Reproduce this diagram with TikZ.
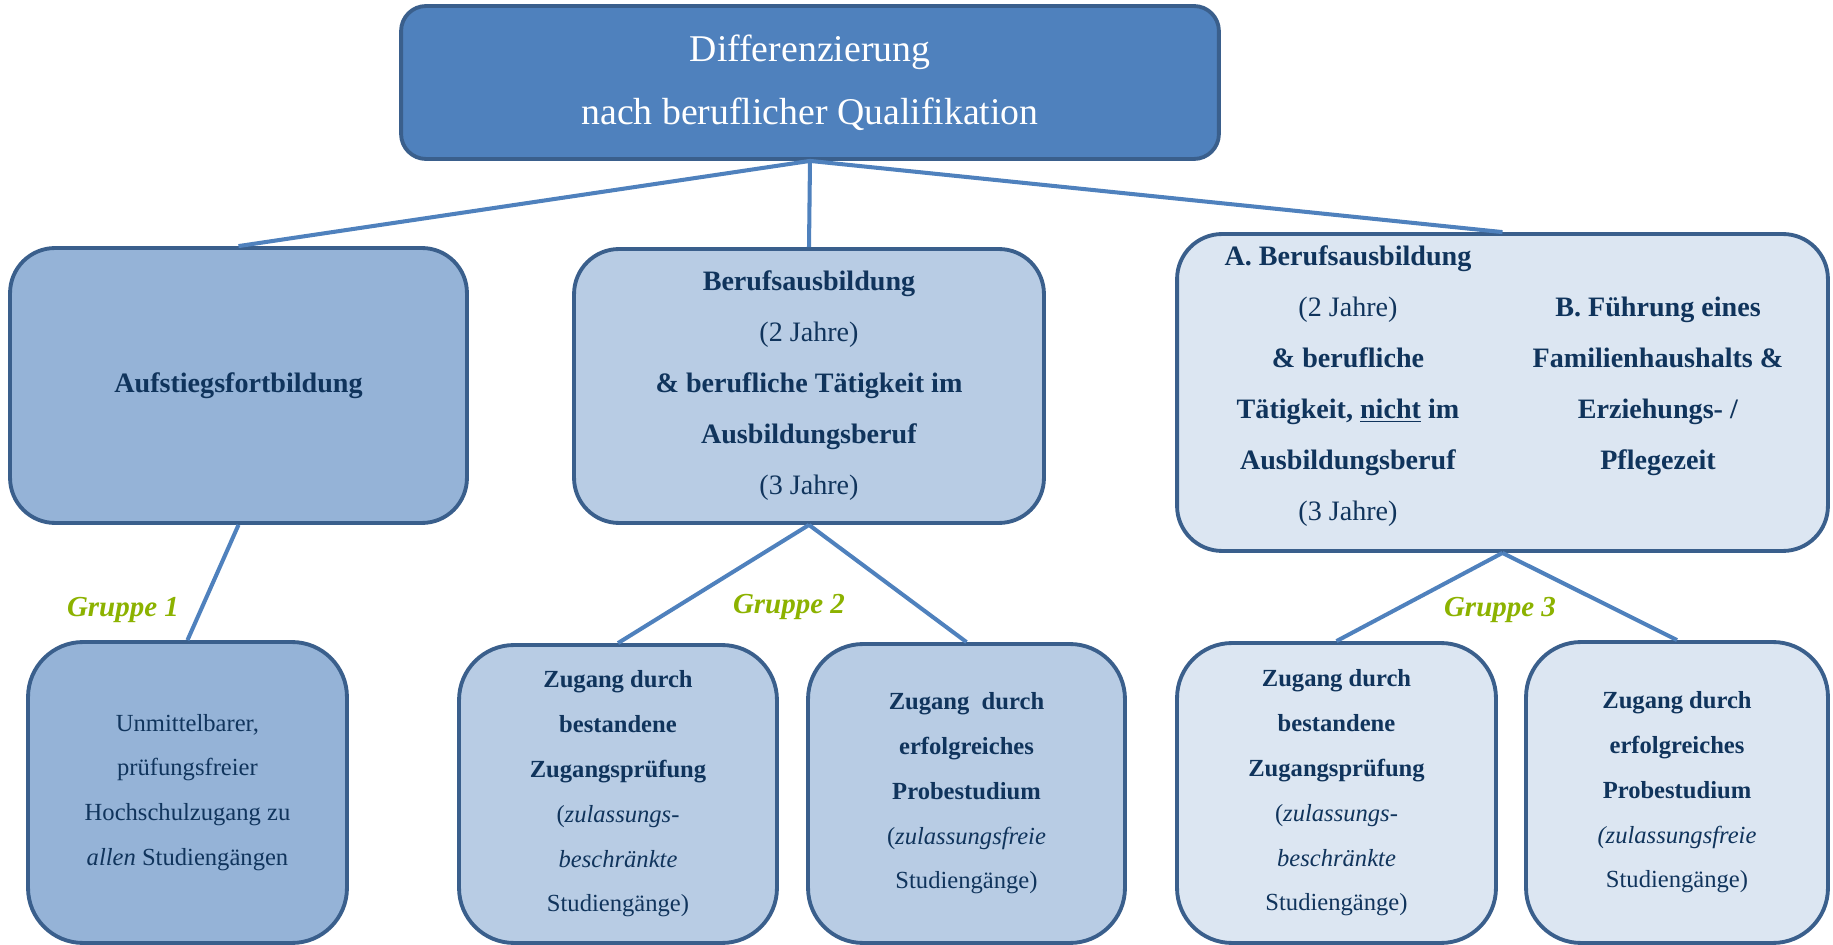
\documentclass[tikz,border=0pt]{standalone}
\usepackage{fontspec}
\setmainfont{Liberation Serif}
\usepackage{xcolor}
\definecolor{HeadBlue}{RGB}{79, 129, 189}
\definecolor{LineBlue}{RGB}{58, 95, 140}
\definecolor{LinkBlue}{RGB}{79, 129, 189}
\definecolor{MidBlue}{RGB}{149, 179, 215}
\definecolor{LightBlue}{RGB}{184, 204, 228}
\definecolor{PaleBlue}{RGB}{220, 230, 242}
\definecolor{TextBlue}{RGB}{16, 52, 92}
\definecolor{GroupGreen}{RGB}{140, 178, 0}

\tikzset{
  headbox/.style={draw=LineBlue, fill=HeadBlue, line width=2.2pt, rounded corners=0.5cm,
    text=white, align=center, inner sep=0pt, font=\fontsize{21.5}{36}\selectfont},
  midbox/.style={draw=LineBlue, line width=2.2pt, rounded corners=0.9cm,
    text=TextBlue, align=center, inner sep=0pt, font=\fontsize{16}{29}\selectfont},
  lowbox/.style={draw=LineBlue, line width=2.2pt, rounded corners=1.1cm,
    text=TextBlue, align=center, inner sep=0pt, font=\fontsize{14}{25.5}\selectfont},
  coltext/.style={text=TextBlue, align=center, inner sep=0pt, font=\fontsize{16}{29}\selectfont},
  link/.style={draw=LinkBlue, line width=2.3pt},
  grouplabel/.style={text=GroupGreen, font=\fontsize{16.5}{20}\selectfont\bfseries\itshape}
}

\begin{document}
\begin{tikzpicture}[x=0.02cm, y=-0.02cm]
            \useasboundingbox (0,0) rectangle (1833,945);

            % Head
            \node[headbox, minimum width=16.36cm, minimum height=3.06cm] (head) at (810,82.5)
                {Differenzierung\\ nach beruflicher Qualifikation};

            % Second row
            \node[midbox, fill=MidBlue, minimum width=9.14cm, minimum height=5.5cm] (fortb) at (238.5,385.5)
                {\textbf{Aufstiegsfortbildung}};
            \node[midbox, fill=LightBlue, minimum width=9.4cm, minimum height=5.48cm] (ausb) at (809,386)
                {\textbf{Berufsausbildung}\\ (2 Jahre)\\ \textbf{\& berufliche Tätigkeit im}\\
                 \textbf{Ausbildungsberuf}\\ (3 Jahre)};
            \node[midbox, fill=PaleBlue, minimum width=13.02cm, minimum height=6.34cm] (fremd) at (1502.5,392.5) {};
            \node[coltext] (fremdA) at (1348,386)
                {\textbf{A. Berufsausbildung}\\ (2 Jahre)\\ \textbf{\& berufliche}\\
                 \textbf{Tätigkeit, \underline{nicht} im}\\ \textbf{Ausbildungsberuf}\\ (3 Jahre)};
            \node[coltext] (fremdB) at (1658,386)
                {\textbf{B. Führung eines}\\ \textbf{Familienhaushalts \&}\\
                 \textbf{Erziehungs- /}\\ \textbf{Pflegezeit}};

            % Third row
            \node[lowbox, fill=MidBlue, minimum width=6.38cm, minimum height=6.02cm] (frei) at (187.5,792.5)
                {Unmittelbarer,\\ prüfungsfreier\\ Hochschulzugang zu\\ \textit{allen} Studiengängen};
            \node[lowbox, fill=LightBlue, minimum width=6.36cm, minimum height=5.96cm] (pruefB) at (618,794)
                {\textbf{Zugang durch}\\ \textbf{bestandene}\\ \textbf{Zugangsprüfung}\\
                 (\textit{zulassungs-}\\ \textit{beschränkte}\\ Studiengänge)};
            \node[lowbox, fill=LightBlue, minimum width=6.34cm, minimum height=5.98cm] (probeB) at (966.5,793.5)
                {\textbf{Zugang\ \ durch}\\ \textbf{erfolgreiches}\\ \textbf{Probestudium}\\
                 (\textit{zulassungsfreie}\\ Studiengänge)};
            \node[lowbox, fill=PaleBlue, minimum width=6.38cm, minimum height=6cm] (pruefC) at (1336.5,793)
                {\textbf{Zugang durch}\\ \textbf{bestandene}\\ \textbf{Zugangsprüfung}\\
                 (\textit{zulassungs-}\\ \textit{beschränkte}\\ Studiengänge)};
            \node[lowbox, fill=PaleBlue, minimum width=6.04cm, minimum height=6.02cm] (probeC) at (1677,792.5)
                {\textbf{Zugang durch}\\ \textbf{erfolgreiches}\\ \textbf{Probestudium}\\
                 \textit{(zulassungsfreie}\\ Studiengänge)};

            % Connectors
            \draw[link] (head.south) -- (fortb.north);
            \draw[link] (head.south) -- (ausb.north);
            \draw[link] (head.south) -- (fremd.north);
            \draw[link] (fortb.south) -- (frei.north);
            \draw[link] (ausb.south) -- (pruefB.north);
            \draw[link] (ausb.south) -- (probeB.north);
            \draw[link] (fremd.south) -- (pruefC.north);
            \draw[link] (fremd.south) -- (probeC.north);

            % Groups
            \node[grouplabel] (gr1) at (123,610) {Gruppe 1};
            \node[grouplabel] (gr2) at (789,607) {Gruppe 2};
            \node[grouplabel] (gr3) at (1500,610) {Gruppe 3};
        \end{tikzpicture}
\end{document}
